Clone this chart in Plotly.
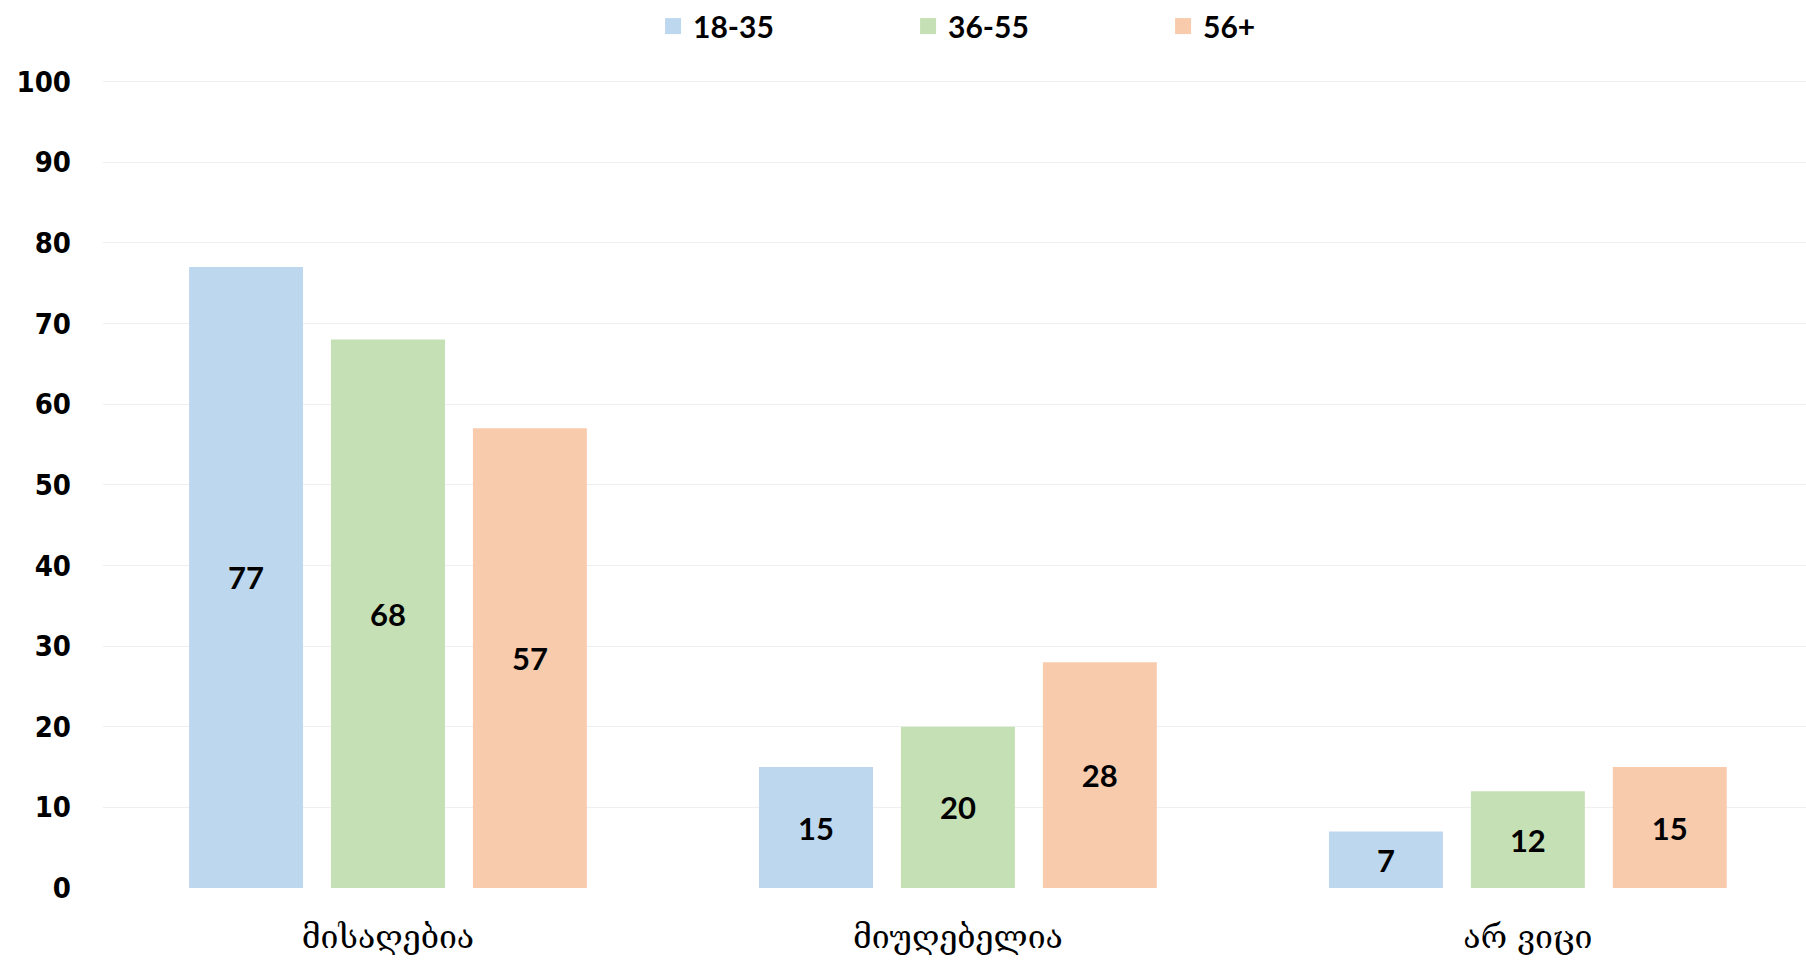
import plotly.graph_objects as go

# Response categories (x axis) and age groups (series)
categories = ["მისაღებია", "მიუღებელია", "არ ვიცი"]
age_groups = ["18-35", "36-55", "56+"]

# Share of respondents (%) per age group
values_18_35 = [77, 15, 7]
values_36_55 = [68, 20, 12]
values_56_plus = [57, 28, 15]

series_values = [values_18_35, values_36_55, values_56_plus]
series_colors = ["#BDD7EE", "#C5E0B4", "#F8CBAD"]

y_ticks = [0, 10, 20, 30, 40, 50, 60, 70, 80, 90, 100]

fig = go.Figure()
for name, vals, color in zip(age_groups, series_values, series_colors):
    fig.add_trace(go.Bar(
        name=name,
        x=categories,
        y=vals,
        marker=dict(color=color, line=dict(width=0)),
        text=[str(v) for v in vals],
        textposition="inside",
        insidetextanchor="middle",
        textangle=0,
        constraintext="none",
        textfont=dict(family="Lato", size=31, color="#000000", weight="bold"),
        hoverinfo="skip",
        showlegend=False,
        legendgroup=name,
    ))

# Legend entries with larger square swatches
for name, color in zip(age_groups, series_colors):
    fig.add_trace(go.Scatter(
        name=name,
        x=[None],
        y=[None],
        mode="markers",
        marker=dict(symbol="square", size=16, color=color, line=dict(width=0)),
        legendgroup=name,
        showlegend=True,
        hoverinfo="skip",
    ))

fig.update_layout(
    width=1806,
    height=960,
    margin=dict(l=103, r=0, t=77, b=72),
    paper_bgcolor="white",
    plot_bgcolor="white",
    barmode="group",
    bargap=0.253,
    bargroupgap=0.197,
    showlegend=True,
    legend=dict(
        orientation="h",
        x=0.5476,
        xanchor="center",
        y=1.0654,
        yanchor="middle",
        font=dict(family="Lato", size=30, color="#000000", weight="bold"),
        entrywidth=210,
        itemsizing="trace",
        traceorder="normal",
    ),
    xaxis=dict(
        range=[-0.5, 2.488],
        showgrid=False,
        showline=False,
        zeroline=False,
        ticks="",
        tickfont=dict(family="DejaVu Serif", size=32, color="#000000"),
        ticklabelstandoff=27,
    ),
    yaxis=dict(
        range=[0, 100.3],
        tickvals=y_ticks,
        ticktext=[str(t) for t in y_ticks],
        showgrid=True,
        gridcolor="#EFEFEF",
        gridwidth=1,
        zeroline=False,
        showline=False,
        ticks="",
        tickfont=dict(family="DejaVu Sans Condensed", size=29, color="#000000", weight="bold"),
        ticklabelstandoff=31,
    ),
)

fig.write_html("out.html")
